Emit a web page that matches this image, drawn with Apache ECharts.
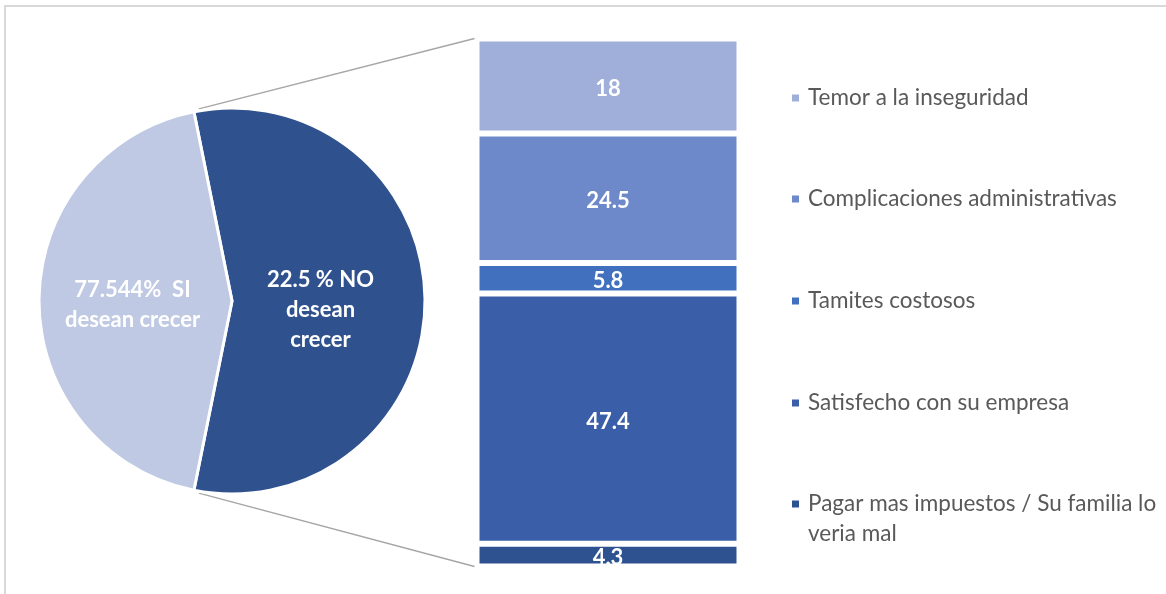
<!DOCTYPE html>
<html>
<head>
<meta charset="utf-8">
<script src="https://cdn.jsdelivr.net/npm/echarts@6/dist/echarts.min.js"></script>
<style>
  html, body { margin: 0; padding: 0; background: #fff; }
  #chart { width: 1166px; height: 594px; }
</style>
</head>
<body>
<div id="chart"></div>
<script>
// Breakdown of the reasons for not wanting to grow (bar), pulled out of the pie
const categories = [
  'Temor a la inseguridad',
  'Complicaciones administrativas',
  'Tamites costosos',
  'Satisfecho con su empresa',
  'Pagar mas impuestos / Su familia lo veria mal'
];
// legend text; the long entry wraps onto a second line (leading blank line keeps
// the marker level with the first line)
const legendLabels = [
  'Temor a la inseguridad',
  'Complicaciones administrativas',
  'Tamites costosos',
  'Satisfecho con su empresa',
  '\nPagar mas impuestos / Su familia lo\nveria mal'
];
const barValues = [18, 24.5, 5.8, 47.4, 4.3];
const barColors = ['#9fafd9', '#6e89c9', '#4170bf', '#3a5fa8', '#2e5190'];

// Pie: "SI" slice value, the "NO" slice is the sum of the bar breakdown
const siValue = 77.544;
const pieNames = ['NO', 'SI'];
const pieLabels = ['22.5 % NO\ndesean\ncrecer', '77.544%  SI\ndesean crecer'];
const pieColors = ['#2f528f', '#bfc9e3'];

const FONT = 'Lato';
const noValue = barValues.reduce((a, b) => a + b, 0);
const noFrac = noValue / (noValue + siValue);
const startAngle = 180 * noFrac; // NO slice centred on the right side

const pieCenter = [232, 301];
const pieRadius = 193;
const grid = { left: 476.5, top: 38.5, width: 263, height: 528 };

// connector end points on the pie rim (edges of the NO slice)
const rad = (startAngle - 1.5) * Math.PI / 180;
const rimTop = [pieCenter[0] + pieRadius * Math.cos(rad), pieCenter[1] - pieRadius * Math.sin(rad) - 2];
const rimBot = [rimTop[0], pieCenter[1] + pieRadius * Math.sin(rad) + 2];

const chart = echarts.init(document.getElementById('chart'));

const barSeries = [];
for (let i = categories.length - 1; i >= 0; i--) {
  barSeries.push({
    name: categories[i],
    type: 'bar',
    stack: 'total',
    barWidth: grid.width,
    data: [barValues[i]],
    itemStyle: { color: barColors[i], borderColor: '#fff', borderWidth: 3 },
    label: {
      show: true,
      position: 'inside',
      offset: [0, 3],
      color: '#fff',
      fontFamily: FONT,
      fontWeight: 'bold',
      fontSize: 22
    },
    silent: true
  });
}

const legendTops = [98, 199, 301, 403, 504];
const legends = categories.map((name, i) => {
  const lines = legendLabels[i].split('\n').length;
  return {
    orient: 'vertical',
    left: 790,
    top: legendTops[i] - lines * 15,
    padding: 0,
    itemWidth: 9,
    itemHeight: 9,
    icon: 'rect',
    data: [name],
    formatter: () => legendLabels[i],
    selectedMode: false,
    textStyle: {
      color: '#595959',
      fontFamily: FONT,
      fontSize: 22.5,
      lineHeight: 30,
      padding: [0, 0, 0, 3]
    }
  };
});

// a thin spacer line above a pie label nudges it down within its slice
const spaced = (text) => '{s| }\n' + text;

chart.setOption({
  animation: false,
  backgroundColor: '#fff',
  legend: legends,
  grid: { left: grid.left, top: grid.top, width: grid.width, height: grid.height },
  xAxis: { type: 'category', data: ['NO'], show: false },
  yAxis: { type: 'value', min: 0, max: 100, show: false },
  graphic: [
    {
      type: 'rect',
      shape: { x: 5, y: 6, width: 1200, height: 640 },
      style: { fill: 'none', stroke: '#d9d9d9', lineWidth: 2 },
      silent: true
    },
    {
      type: 'line',
      shape: { x1: rimTop[0], y1: rimTop[1], x2: grid.left - 2, y2: grid.top },
      style: { stroke: '#a6a6a6', lineWidth: 1.5 },
      silent: true
    },
    {
      type: 'line',
      shape: { x1: rimBot[0], y1: rimBot[1], x2: grid.left - 2, y2: grid.top + grid.height },
      style: { stroke: '#a6a6a6', lineWidth: 1.5 },
      silent: true
    }
  ],
  series: [
    {
      type: 'pie',
      center: pieCenter,
      radius: pieRadius,
      startAngle: startAngle,
      clockwise: true,
      silent: true,
      labelLine: { show: false },
      itemStyle: { borderColor: '#fff', borderWidth: 3 },
      data: [
        {
          name: pieNames[0], value: noValue,
          itemStyle: { color: pieColors[0] },
          label: {
            formatter: spaced(pieLabels[0]),
            padding: [0, 22, 0, 0],
            rich: { s: { fontSize: 4, lineHeight: 18 } }
          }
        },
        {
          name: pieNames[1], value: siValue,
          itemStyle: { color: pieColors[1] },
          label: {
            formatter: spaced(pieLabels[1]),
            rich: { s: { fontSize: 4, lineHeight: 8 } }
          }
        }
      ],
      label: {
        show: true,
        position: 'inside',
        color: '#fff',
        fontFamily: FONT,
        fontWeight: 'bold',
        fontSize: 22,
        lineHeight: 30,
        align: 'center'
      }
    }
  ].concat(barSeries)
});
</script>
</body>
</html>
